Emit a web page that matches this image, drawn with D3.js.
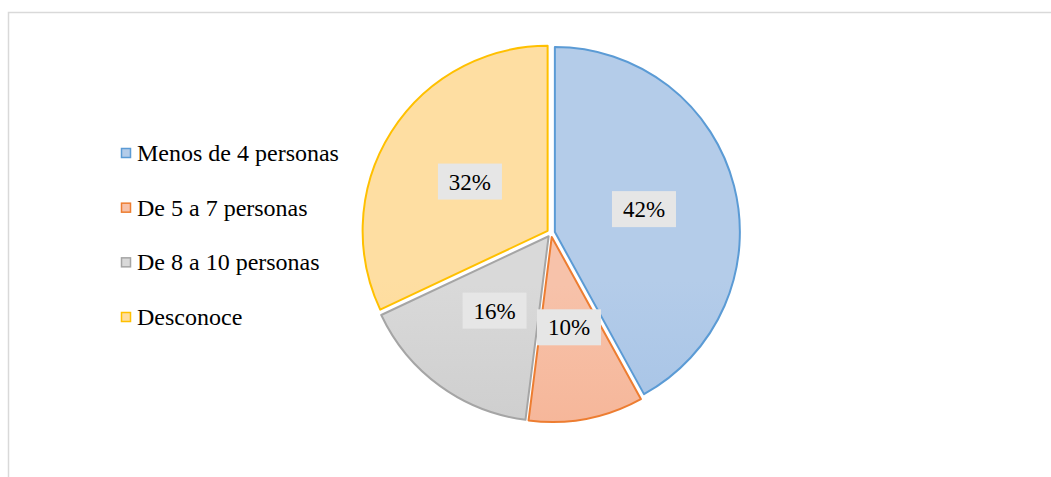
<!DOCTYPE html>
<html>
<head>
<meta charset="utf-8">
<script src="https://cdn.jsdelivr.net/npm/d3@7"></script>
</head>
<body style="margin:0">
<svg id="chart" width="1051" height="477"></svg>
<script>
// data
const categories = ["Menos de 4 personas", "De 5 a 7 personas", "De 8 a 10 personas", "Desconoce"];
const values = [42, 10, 16, 32];
const labels = ["42%", "10%", "16%", "32%"];

const strokeColors = ["#5b9bd5", "#ed7d31", "#a5a5a5", "#ffc000"];
const topColors = ["#b4cce9", "#f7c2aa", "#d9d9d9", "#fedea2"];
const bottomColors = ["#93b7e2", "#f4a47f", "#bdbdbd", "#fdd17c"];

const CX = 551, CY = 233, R = 185;
const EXPLODE = 4;
const FONT = "Liberation Serif";

const svg = d3.select("#chart");

// chart frame (only left/top visible in the crop)
svg.append("rect")
  .attr("x", 8.5).attr("y", 12.5)
  .attr("width", 1100).attr("height", 500)
  .attr("fill", "#fff")
  .attr("stroke", "#d9d9d9")
  .attr("stroke-width", 1.5);

const defs = svg.append("defs");
categories.forEach((c, i) => {
  let g = defs.append("linearGradient")
    .attr("id", "grad" + i)
    .attr("gradientUnits", "userSpaceOnUse")
    .attr("x1", 0).attr("y1", CY - R)
    .attr("x2", 0).attr("y2", CY + R);
  g.append("stop").attr("offset", "0%").attr("stop-color", topColors[i]);
  g.append("stop").attr("offset", "100%").attr("stop-color", bottomColors[i]);
});

const pie = d3.pie().sort(null).value(d => d);
const arcs = pie(values);
const arc = d3.arc().innerRadius(0).outerRadius(R);

const g = svg.append("g").attr("transform", "translate(" + CX + "," + CY + ")");

//shift each slice outward along its bisector
let offset = (d, dist) => {
  let a = (d.startAngle + d.endAngle) / 2;
  return [Math.sin(a) * dist, -Math.cos(a) * dist];
};

g.selectAll("path.slice")
  .data(arcs)
  .enter()
  .append("path")
    .attr("class", "slice")
    .attr("transform", d => {
      let o = offset(d, EXPLODE);
      return "translate(" + o[0] + "," + o[1] + ")";
    })
    .attr("d", arc)
    .attr("fill", (d, i) => "url(#grad" + i + ")")
    .attr("stroke", (d, i) => strokeColors[i])
    .attr("stroke-width", 2)
    .attr("stroke-linejoin", "round");

// data labels with grey boxes
const LABEL_R = 96;
const boxW = 64, boxH = 36;
let lab = g.selectAll("g.label")
  .data(arcs)
  .enter()
  .append("g")
    .attr("class", "label")
    .attr("transform", d => {
      let o = offset(d, LABEL_R);
      return "translate(" + o[0] + "," + o[1] + ")";
    });

lab.append("rect")
  .attr("x", -boxW / 2).attr("y", -boxH / 2)
  .attr("width", boxW).attr("height", boxH)
  .attr("fill", "#e6e6e6");

lab.append("text")
  .attr("text-anchor", "middle")
  .attr("y", 8)
  .attr("font-family", FONT)
  .attr("font-size", 23)
  .attr("fill", "#000")
  .text((d, i) => labels[i]);

// legend
const legendY = d3.scalePoint().domain(categories).range([153, 317]);
let leg = svg.selectAll("g.legend")
  .data(categories)
  .enter()
  .append("g")
    .attr("class", "legend")
    .attr("transform", d => "translate(121," + legendY(d) + ")");

leg.append("rect")
  .attr("x", 0.5).attr("y", -4.5)
  .attr("width", 9).attr("height", 9)
  .attr("fill", (d, i) => topColors[i])
  .attr("stroke", (d, i) => strokeColors[i])
  .attr("stroke-width", 1.5);

leg.append("text")
  .attr("x", 16)
  .attr("y", 8)
  .attr("font-family", FONT)
  .attr("font-size", 24)
  .attr("fill", "#000")
  .text(d => d);
</script>
</body>
</html>
